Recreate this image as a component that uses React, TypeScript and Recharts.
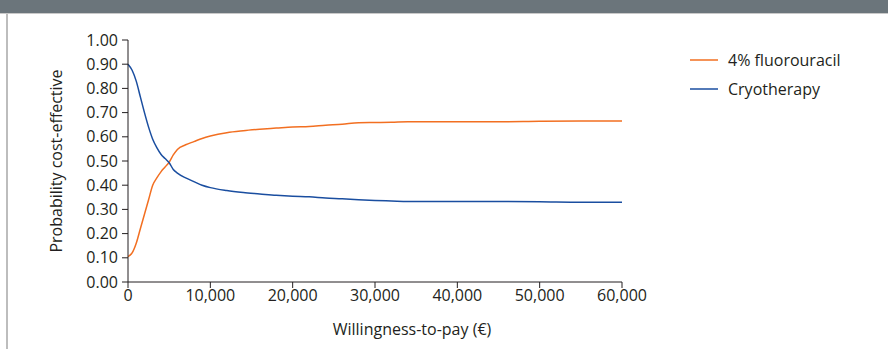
import { LineChart, Line, XAxis, YAxis, Legend } from 'recharts';

const wtp = [
  0, 500, 1000, 1500, 2000, 2500, 3000, 3500, 4000, 4500, 5000, 5500, 6000, 7000, 8000, 9000, 10000,
  12000, 14000, 16000, 18000, 20000, 22000, 24000, 26000, 28000, 30000, 32000, 34000, 36000, 40000,
  45000, 50000, 55000, 60000,
];

const fluorouracil = [
  0.105, 0.12, 0.16, 0.22, 0.28, 0.34, 0.4, 0.43, 0.455, 0.475, 0.495, 0.525, 0.548, 0.567, 0.58, 0.593,
  0.603, 0.617, 0.625, 0.631, 0.636, 0.641, 0.643, 0.648, 0.652, 0.658, 0.659, 0.66, 0.662, 0.662, 0.662,
  0.662, 0.664, 0.665, 0.665,
];

const cryotherapy = [
  0.9, 0.875, 0.83, 0.765, 0.7, 0.64, 0.59, 0.555, 0.528, 0.51, 0.493, 0.465, 0.45, 0.43, 0.415, 0.4,
  0.39, 0.378, 0.37, 0.364, 0.358, 0.354, 0.352, 0.347, 0.344, 0.34, 0.337, 0.335, 0.333, 0.333, 0.333,
  0.333, 0.332, 0.33, 0.33,
];

const xTicks = [0, 10000, 20000, 30000, 40000, 50000, 60000];
const yTicks = [0, 0.1, 0.2, 0.3, 0.4, 0.5, 0.6, 0.7, 0.8, 0.9, 1];

const data = wtp.map((w, i) => ({ wtp: w, fluorouracil: fluorouracil[i], cryotherapy: cryotherapy[i] }));

const ORANGE = '#f26f21';
const BLUE = '#1a4ea0';
const INK = '#231f20';
const FONT = '"Open Sans", sans-serif';

function LegendBox(props: any) {
  const items = props.payload || [];
  return (
    <div style={{ fontFamily: FONT, fontSize: 16, color: INK }}>
      {items.map((it: any) => (
        <div key={it.value} style={{ display: 'flex', alignItems: 'center', height: 29 }}>
          <svg width={28} height={4} style={{ marginRight: 10 }}>
            <line x1={0} y1={2} x2={28} y2={2} stroke={it.color} strokeWidth={1.5} />
          </svg>
          <span>{it.value}</span>
        </div>
      ))}
    </div>
  );
}

export default function App() {
  return (
    <div style={{ position: 'absolute', left: 0, top: 0, width: 888, height: 349, background: '#fff' }}>
      <div style={{ position: 'absolute', left: 0, top: 0, width: 888, height: 13, background: '#6b757b' }} />
      <div style={{ position: 'absolute', left: 0, top: 13, width: 888, height: 1, background: '#c9c9c9' }} />
      <div style={{ position: 'absolute', left: 6, top: 14, width: 2, height: 335, background: '#bdbdbd' }} />
      <div style={{ position: 'absolute', left: 0, top: 0 }}>
        <LineChart width={888} height={349} data={data} margin={{ top: 40, right: 266, left: 0, bottom: 0 }}>
          <XAxis
            dataKey="wtp"
            type="number"
            domain={[0, 60000]}
            ticks={xTicks}
            interval={0}
            tickFormatter={(v: number) => v.toLocaleString('en-US')}
            height={67}
            tickSize={6}
            tickMargin={2}
            stroke={INK}
            tick={{ fill: INK, fontSize: 16, fontFamily: FONT }}
            label={{
              value: 'Willingness-to-pay (€)',
              position: 'insideBottom',
              offset: 14,
              dx: 37,
              fill: INK,
              fontSize: 16,
              fontFamily: FONT,
            }}
          />
          <YAxis
            type="number"
            domain={[0, 1]}
            ticks={yTicks}
            interval={0}
            tickFormatter={(v: number) => v.toFixed(2)}
            width={128}
            tickSize={6}
            tickMargin={4}
            stroke={INK}
            tick={{ fill: INK, fontSize: 16, fontFamily: FONT }}
            label={{
              value: 'Probability cost-effective',
              angle: -90,
              position: 'insideLeft',
              offset: 56,
              style: { textAnchor: 'middle' },
              fill: INK,
              fontSize: 16,
              fontFamily: FONT,
            }}
          />
          <Legend
            layout="horizontal"
            verticalAlign="middle"
            align="center"
            wrapperStyle={{ left: 690, top: 45, width: 190 }}
            content={<LegendBox />}
          />
          <Line
            name="4% fluorouracil"
            type="monotone"
            dataKey="fluorouracil"
            stroke={ORANGE}
            strokeWidth={1.5}
            dot={false}
            isAnimationActive={false}
          />
          <Line
            name="Cryotherapy"
            type="monotone"
            dataKey="cryotherapy"
            stroke={BLUE}
            strokeWidth={1.5}
            dot={false}
            isAnimationActive={false}
          />
        </LineChart>
      </div>
    </div>
  );
}
